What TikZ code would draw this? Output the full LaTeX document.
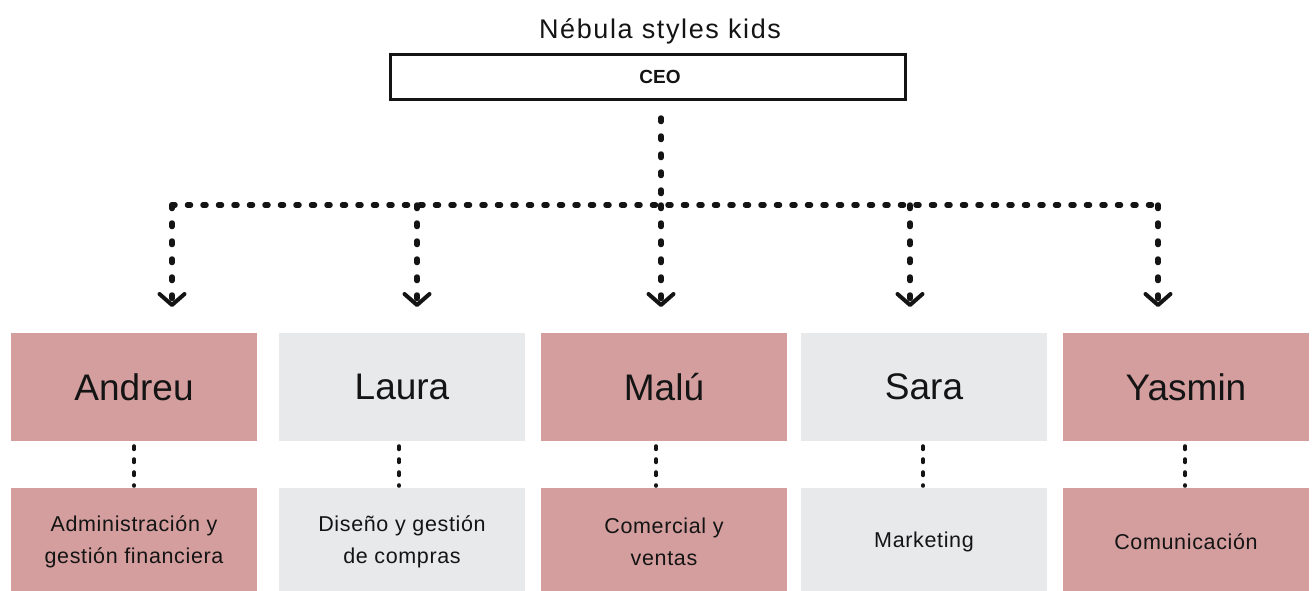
\documentclass[tikz,border=0pt]{standalone}
\usepackage{fontspec}
\setmainfont{Liberation Sans}
\usetikzlibrary{arrows.meta}
\definecolor{pinkbox}{HTML}{D59E9E}
\definecolor{greybox}{HTML}{E8E9EB}
\definecolor{ink}{HTML}{141414}
\begin{document}
\begin{tikzpicture}[x=1pt,y=-1pt,
  namebox/.style={minimum width=246pt, minimum height=108pt, inner sep=0pt, text=ink,
    font=\fontsize{37}{40}\selectfont},
  taskbox/.style={minimum width=246pt, minimum height=108pt, inner sep=0pt, text=ink,
    align=center, font=\fontsize{21.5}{32}\selectfont\addfontfeature{LetterSpace=3}},
  pinkfill/.style={fill=pinkbox},
  greyfill/.style={fill=greybox},
  hconn/.style={draw=ink, line width=5.5pt, line cap=round, dash pattern=on 3pt off 12.5pt},
  vconn/.style={draw=ink, line width=5.5pt, line cap=round, dash pattern=on 3.5pt off 14.5pt},
  tip/.style={-{Straight Barb[length=11pt,width=25pt,line width=4pt,round]}},
  subconn/.style={draw=ink, line width=4pt, line cap=round, dash pattern=on 3pt off 10pt}]
\useasboundingbox (0,0) rectangle (1315,590);
\clip (0,0) rectangle (1315,590);
\fill[white] (0,0) rectangle (1315,590);

\node[text=ink, font=\fontsize{27}{30}\selectfont\addfontfeature{LetterSpace=6}] (title) at (660,31) {Nébula styles kids};
\node[draw=ink, line width=2.5pt, minimum width=515pt, minimum height=45pt, inner sep=0pt,
  font=\bfseries\fontsize{19}{20}\selectfont, text=ink] (ceo) at (648,77) {\hspace*{24pt}CEO};

% name boxes
\node[namebox, pinkfill] (n1) at (134,387) {Andreu};
\node[namebox, greyfill] (n2) at (402,387) {Laura};
\node[namebox, pinkfill] (n3) at (664,387) {Malú};
\node[namebox, greyfill] (n4) at (924,387) {Sara};
\node[namebox, pinkfill] (n5) at (1186,387) {Yasmin};

% task boxes
\node[taskbox, pinkfill] (t1) at (134,542) {Administración y\\gestión financiera};
\node[taskbox, greyfill] (t2) at (402,542) {Diseño y gestión\\de compras};
\node[taskbox, pinkfill] (t3) at (664,542) {Comercial y\\ventas};
\node[taskbox, greyfill] (t4) at (924,542) {Marketing};
\node[taskbox, pinkfill] (t5) at (1186,542) {Comunicación};

% connector points
\coordinate (top) at (661,118);
\coordinate (hub) at (661,205);
\coordinate (j1) at (172,205);
\coordinate (j2) at (417,205);
\coordinate (j4) at (910,205);
\coordinate (j5) at (1158,205);
\coordinate (e1) at (172,307);
\coordinate (e2) at (417,307);
\coordinate (e3) at (661,307);
\coordinate (e4) at (910,307);
\coordinate (e5) at (1158,307);

\draw[vconn] (top) -- (hub);
\draw[hconn] (j1) -- (j5);
\foreach \i/\j in {j1/e1, j2/e2, hub/e3, j4/e4, j5/e5}
  \draw[vconn, tip] (\i) -- (\j);

\foreach \k/\dx in {1/0, 2/-3, 3/-8, 4/-1, 5/-1}
  \draw[subconn] ([xshift=\dx pt, yshift=-5pt]n\k.south) -- ([xshift=\dx pt, yshift=2pt]t\k.north);
\end{tikzpicture}
\end{document}
